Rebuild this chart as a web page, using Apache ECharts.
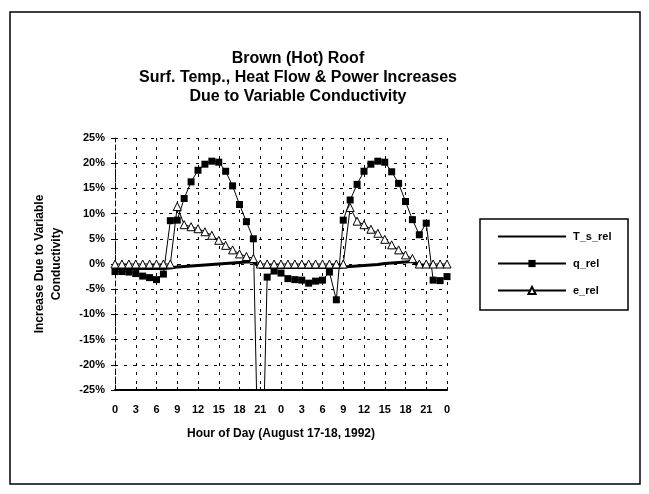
<!DOCTYPE html>
<html>
<head>
<meta charset="utf-8">
<script src="https://cdn.jsdelivr.net/npm/echarts@6/dist/echarts.min.js"></script>
<style>
  html, body { margin: 0; padding: 0; background: #fff; }
  #chart { width: 649px; height: 494px; }
</style>
</head>
<body>
<div id="chart"></div>
<script>
// hour of the run (Aug 17 0:00 -> Aug 18 24:00)
var hours = [0,1,2,3,4,5,6,7,8,9,10,11,12,13,14,15,16,17,18,19,20,21,22,23,24,
             25,26,27,28,29,30,31,32,33,34,35,36,37,38,39,40,41,42,43,44,45,46,47,48];
var xTickLabels = ["0","3","6","9","12","15","18","21","0","3","6","9","12","15","18","21","0"];

// relative increases, %
var tsRel = [-0.9,-0.9,-0.9,-0.9,-0.9,-0.9,-0.9,-0.9,-0.8,-0.6,-0.5,-0.4,-0.3,-0.2,-0.1,0.0,0.1,0.2,0.3,0.4,0.4,
             -0.7,-0.7,-0.7,-0.7,-0.7,-0.7,-0.7,-0.7,-0.7,-0.7,-0.7,-0.7,-0.6,-0.5,-0.4,-0.3,-0.2,-0.1,0.1,0.2,0.3,0.4,0.5,
             -0.5,-0.5,-0.5,-0.5,-0.5];
var qRel = [-1.5,-1.5,-1.6,-1.9,-2.4,-2.7,-3.1,-2.0,8.6,8.7,13.0,16.3,18.6,19.8,20.4,20.2,18.4,15.5,11.8,8.4,5.0,
            -60,-2.6,-1.4,-1.8,-2.9,-3.1,-3.2,-3.8,-3.4,-3.2,-1.6,-7.1,8.7,12.7,15.8,18.4,19.8,20.4,20.2,18.3,16.0,12.4,8.8,
            5.8,8.1,-3.2,-3.3,-2.5];
var eRel = [0,0,0,0,0,0,0,0,0,11.4,7.8,7.4,7.0,6.4,5.7,4.7,3.7,2.8,2.0,1.5,1.1,
            0,0,0,0,0,0,0,0,0,0,0,0,0,11.2,8.5,7.8,6.9,6.1,4.9,3.8,2.8,1.8,1.1,
            0,0,0,0,0];

function pairs(ys){
  var out = [];
  for(var i=0;i<hours.length;i++){
    out.push([hours[i], ys[i]]);
  }
  return out;
}

var FONT = "'Liberation Sans', Arial, sans-serif";
var dash = {color:'#000', width:1, type:[3,6]};

var chart = echarts.init(document.getElementById('chart'));
var option = {
  animation: false,
  backgroundColor: '#fff',
  title: {
    text: 'Brown (Hot) Roof\nSurf. Temp., Heat Flow & Power Increases\nDue to Variable Conductivity',
    left: 293, top: 44, textAlign: 'center',
    textStyle: {fontFamily: FONT, fontSize: 16, fontWeight: 'bold', color: '#000', lineHeight: 19}
  },
  grid: {left: 115, right: 202, top: 138, bottom: 104},
  legend: {
    orient: 'vertical',
    left: 492, top: 226,
    itemWidth: 68, itemHeight: 9, itemGap: 16,
    textStyle: {fontFamily: FONT, fontSize: 11, fontWeight: 'bold', color: '#000', padding: [0,0,0,2]},
    data: [
      {name: 'T_s_rel', itemStyle: {opacity: 0}},
      'q_rel',
      'e_rel'
    ]
  },
  xAxis: {
    type: 'value', min: 0, max: 48, interval: 3,
    name: 'Hour of Day (August 17-18, 1992)', nameLocation: 'middle', nameGap: 38,
    nameTextStyle: {fontFamily: FONT, fontSize: 12, fontWeight: 'bold', color: '#000'},
    axisLine: {show: true, onZero: false, lineStyle: {color: '#000', width: 2}},
    axisTick: {show: true, inside: true, length: 3, lineStyle: {color: '#000'}},
    axisLabel: {
      fontFamily: FONT, fontSize: 11, fontWeight: 'bold', color: '#000', margin: 14,
      formatter: function(v){ return xTickLabels[Math.round(v/3)]; }
    },
    splitLine: {show: true, lineStyle: dash}
  },
  yAxis: {
    type: 'value', min: -25, max: 25, interval: 5,
    name: 'Increase Due to Variable\nConductivity', nameLocation: 'middle', nameGap: 50, nameRotate: 90,
    nameTextStyle: {fontFamily: FONT, fontSize: 12, fontWeight: 'bold', color: '#000', lineHeight: 17},
    axisLine: {show: true, lineStyle: {color: '#000', width: 1, type: [5,3]}},
    axisTick: {show: true, length: 4, lineStyle: {color: '#000'}},
    axisLabel: {
      fontFamily: FONT, fontSize: 11, fontWeight: 'bold', color: '#000', margin: 10,
      formatter: '{value}%'
    },
    splitLine: {show: true, lineStyle: dash}
  },
  graphic: [
    {type: 'rect', shape: {x: 10, y: 12, width: 630, height: 472},
     style: {fill: 'none', stroke: '#000', lineWidth: 1.5}, silent: true},
    {type: 'rect', shape: {x: 480, y: 219, width: 148, height: 91},
     style: {fill: 'none', stroke: '#000', lineWidth: 1.5}, silent: true}
  ],
  series: [
    {
      name: 'T_s_rel', type: 'line', data: pairs(tsRel),
      symbol: 'none', lineStyle: {color: '#000', width: 3}, itemStyle: {color: '#000'}, z: 3
    },
    {
      name: 'q_rel', type: 'line', data: pairs(qRel),
      symbol: 'rect', symbolSize: 7, showAllSymbol: true,
      lineStyle: {color: '#000', width: 1}, itemStyle: {color: '#000'}, z: 4
    },
    {
      name: 'e_rel', type: 'line', data: pairs(eRel),
      symbol: 'triangle', symbolSize: 8, showAllSymbol: true,
      lineStyle: {color: '#000', width: 1}, itemStyle: {color: '#fff', borderColor: '#000', borderWidth: 1}, z: 5
    }
  ]
};
chart.setOption(option);
</script>
</body>
</html>
